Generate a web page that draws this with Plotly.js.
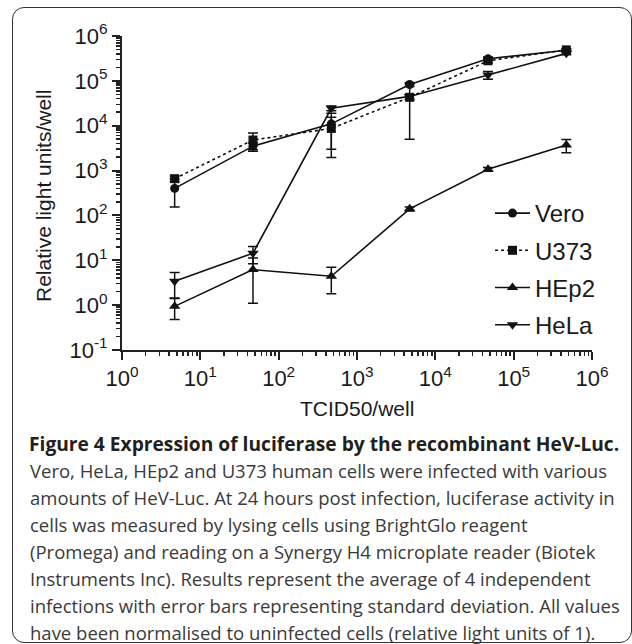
<!DOCTYPE html>
<html><head><meta charset="utf-8">
<script src="https://cdn.plot.ly/plotly-3.0.1.min.js"></script>
<style>
html,body{margin:0;padding:0;background:#fff;overflow:hidden;width:632px;height:644px;}
#chart{position:absolute;left:0;top:0;width:632px;height:644px;}
#frame{position:absolute;left:12px;top:7px;width:620px;height:636px;border:1.5px solid #333;border-radius:12px;pointer-events:none;box-sizing:border-box;}
</style></head><body>
<div id="chart"></div><div id="frame"></div>
<script>
// TCID50 per well (x values)
const doses = [4.7, 47, 470, 4700, 47000, 470000];

// Relative light units per well, mean and standard deviation
const vero    = [400, 3500, 11000, 83000, 310000, 480000];
const veroSD  = [245, 600, 8000, 8000, 30000, 30000];
const u373    = [660, 4800, 8700, 43000, 280000, 490000];
const u373SD  = [100, 2100, 6750, 5000, 30000, 30000];
const hep2    = [0.94, 6.2, 4.4, 140, 1070, 3700];
const hep2SD  = [0.46, 5.1, 2.6, 15, 100, 1200];
const hela    = [3.4, 14.4, 24500, 45000, 135000, 410000];
const helaSD  = [1.95, 6.0, 3000, 40000, 27000, 30000];

const seriesNames = ['Vero', 'U373', 'HEp2', 'HeLa'];

const xTickVals = [1, 10, 100, 1e3, 1e4, 1e5, 1e6];
const xTickText = ['10<sup>0</sup>', '10<sup>1</sup>', '10<sup>2</sup>', '10<sup>3</sup>', '10<sup>4</sup>', '10<sup>5</sup>', '10<sup>6</sup>'];
const yTickVals = [0.1, 1, 10, 100, 1e3, 1e4, 1e5, 1e6];
const yTickText = ['10<sup>-1</sup>', '10<sup>0</sup>', '10<sup>1</sup>', '10<sup>2</sup>', '10<sup>3</sup>', '10<sup>4</sup>', '10<sup>5</sup>', '10<sup>6</sup>'];

const xTitle = 'TCID50/well';
const yTitle = 'Relative light units/well';

const captionTitle = 'Figure 4 Expression of luciferase by the recombinant HeV-Luc.';
const captionLines = [
  'Vero, HeLa, HEp2 and U373 human cells were infected with various',
  'amounts of HeV-Luc. At 24 hours post infection, luciferase activity in',
  'cells was measured by lysing cells using BrightGlo reagent',
  '(Promega) and reading on a Synergy H4 microplate reader (Biotek',
  'Instruments Inc). Results represent the average of 4 independent',
  'infections with error bars representing standard deviation. All values',
  'have been normalised to uninfected cells (relative light units of 1).'
];

// plot-area geometry in pixels
const W = 632, H = 644, L = 122, R = 40, T = 36, B = 294;
const PW = W - L - R, PH = H - T - B;
const px = v => (v - L) / PW;
const py = v => (H - B - v) / PH;

const ink = '#111';
function mk(name, y, sd, symbol, size, dash) {
  return {
    type: 'scatter', mode: 'lines+markers', name: name, legendgroup: name,
    x: doses, y: y,
    line: {color: ink, width: 1.6, dash: dash},
    marker: {symbol: symbol, size: size, color: ink},
    error_y: {type: 'data', array: sd, visible: true, color: ink, thickness: 1.5, width: 5}
  };
}
const data = [
  mk(seriesNames[0], vero, veroSD, 'circle', 9, 'solid'),
  mk(seriesNames[1], u373, u373SD, 'square', 9, 'dot'),
  mk(seriesNames[2], hep2, hep2SD, 'triangle-up', 10, 'solid'),
  mk(seriesNames[3], hela, helaSD, 'triangle-down', 10, 'solid')
];

const axisCommon = {
  type: 'log', tickmode: 'array', ticks: 'outside', ticklen: 8, tickwidth: 2, tickcolor: '#222',
  showline: true, linewidth: 2, linecolor: '#222', showgrid: false, zeroline: false,
  tickfont: {size: 22, color: '#1a1a1a'}, fixedrange: true,
  minor: {dtick: 'D1', ticks: 'outside', ticklen: 4, tickwidth: 1.5, tickcolor: '#222', showgrid: false}
};

const annotations = [
  {text: xTitle, xref: 'paper', yref: 'paper', x: 0.5, y: py(408), xanchor: 'center', yanchor: 'middle', showarrow: false, font: {size: 21, color: '#1a1a1a'}},
  {text: yTitle, xref: 'paper', yref: 'paper', x: px(43), y: py(196), xanchor: 'center', yanchor: 'middle', textangle: -90, showarrow: false, font: {size: 21, color: '#1a1a1a'}},
  {text: '<b>' + captionTitle + '</b>', xref: 'paper', yref: 'paper', x: px(27), y: py(443), xanchor: 'left', yanchor: 'middle', showarrow: false, align: 'left', font: {family: 'Open Sans, sans-serif', size: 19.2, color: '#231f20'}}
];
captionLines.forEach((t, i) => annotations.push({
  text: t, xref: 'paper', yref: 'paper', x: px(28), y: py(470 + i * 27), xanchor: 'left', yanchor: 'middle',
  showarrow: false, align: 'left', font: {family: 'Open Sans, sans-serif', size: 18.5, color: '#3a3a3a'}
}));

const layout = {
  width: W, height: H, margin: {l: L, r: R, t: T, b: B, pad: 0},
  paper_bgcolor: 'rgba(0,0,0,0)', plot_bgcolor: 'rgba(0,0,0,0)',
  font: {family: 'Liberation Sans, Arial, sans-serif', color: '#1a1a1a'},
  xaxis: Object.assign({}, axisCommon, {range: [0, 6], tickvals: xTickVals, ticktext: xTickText}),
  yaxis: Object.assign({}, axisCommon, {range: [-1, 6], tickvals: yTickVals, ticktext: yTickText}),
  showlegend: true,
  legend: {x: px(490), y: py(191), xanchor: 'left', yanchor: 'top', font: {size: 24, color: '#1a1a1a'},
           bgcolor: 'rgba(0,0,0,0)', tracegroupgap: 3, itemwidth: 35},
  annotations: annotations
};

Plotly.newPlot('chart', data, layout, {displayModeBar: false, staticPlot: true});
</script>
</body></html>
